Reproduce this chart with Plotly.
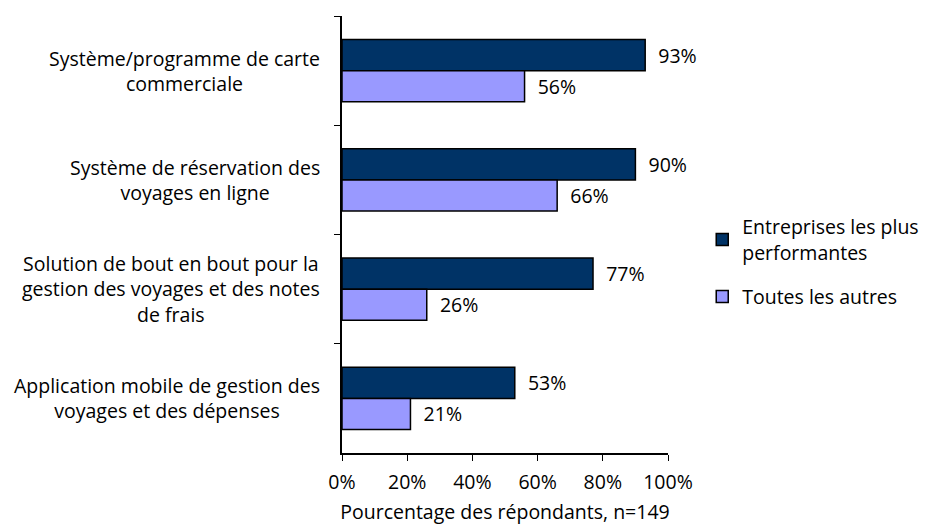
import plotly.graph_objects as go

categories = [
    "Système/programme de carte<br>commerciale",
    "Système de réservation des<br>voyages en ligne",
    "Solution de bout en bout pour la<br>gestion des voyages et des notes<br>de frais",
    "Application mobile de gestion des<br>voyages et des dépenses",
]
series_names = ["Entreprises les plus<br>performantes", "Toutes les autres"]
top_performers = [0.93, 0.90, 0.77, 0.53]
all_others = [0.56, 0.66, 0.26, 0.21]
x_ticks = [0, 0.2, 0.4, 0.6, 0.8, 1.0]
x_title = "Pourcentage des répondants, n=149"

FONT = "Open Sans"
FS = 19.5
colors = ["#003366", "#9999FF"]

fig = go.Figure()
for i, (name, vals, col) in enumerate(zip(series_names, [top_performers, all_others], colors)):
    fig.add_trace(go.Bar(
        y=categories, x=vals, name=name, orientation="h",
        legendgroup=f"g{i}",
        marker=dict(color=col, line=dict(color="black", width=1.5)),
        text=[f"\u00a0\u00a0{round(v*100)}%" for v in vals],
        textposition="outside", cliponaxis=False,
        textfont=dict(family=FONT, size=FS, color="black"),
    ))

for c in categories:
    fig.add_annotation(
        x=0, xref="paper", y=c, yref="y", text=c, showarrow=False,
        xanchor="right", align="center", xshift=-20,
        font=dict(family=FONT, size=FS, color="black"),
    )

# page body has an 8px margin, so the figure is sized/offset to compensate
fig.update_layout(
    width=922, height=517,
    margin=dict(l=334, r=262, t=8, b=72, autoexpand=False),
    paper_bgcolor="white", plot_bgcolor="white",
    barmode="group", bargap=0.43, bargroupgap=0,
    font=dict(family=FONT, size=FS, color="black"),
    legend=dict(x=1.105, y=0.437, xanchor="left", yanchor="middle",
                font=dict(family=FONT, size=FS), tracegroupgap=16,
                itemwidth=30),
    showlegend=True,
)
fig.update_yaxes(
    type="category", autorange="reversed", showticklabels=False,
    showline=True, linecolor="black", linewidth=1.5,
    ticks="outside", ticklen=6, tickcolor="black", tickson="boundaries",
    showgrid=False, zeroline=False, automargin=False,
)
fig.update_xaxes(
    range=[0, 1], tickvals=x_ticks, tickformat=".0%",
    showline=True, linecolor="black", linewidth=1.5,
    ticks="outside", ticklen=6, tickcolor="black",
    showgrid=False, zeroline=False, automargin=False,
    tickfont=dict(family=FONT, size=FS), ticklabelstandoff=5,
    title=dict(text=x_title, font=dict(family=FONT, size=FS), standoff=14),
)

fig.write_html("out.html")
